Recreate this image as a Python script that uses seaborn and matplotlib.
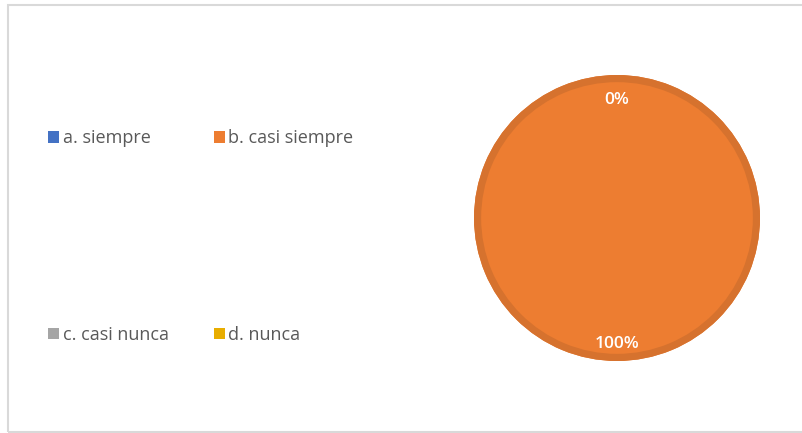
import matplotlib
matplotlib.use("Agg")
import matplotlib.pyplot as plt
import matplotlib.transforms as mtransforms
import seaborn as sns
from matplotlib.patches import Patch, Rectangle

categorias = ["a. siempre", "b. casi siempre", "c. casi nunca", "d. nunca"]
valores = [0, 100, 0, 0]
colores = ["#4472C4", "#ED7D31", "#A5A5A5", "#E8AD00"]
bordes = ["#3A62A8", "#D6722E", "#8E8E8E", "#C99600"]

sns.set_theme(style="white")
plt.rcParams["font.family"] = ["Open Sans", "DejaVu Sans"]

fig = plt.figure(figsize=(8.03, 4.33), dpi=100)
fig.patch.set_facecolor("white")

# marco gris del grafico
fig.patches.append(Rectangle((8 / 803, 1 / 433), 800 / 803, 427 / 433,
                             transform=fig.transFigure, fill=False,
                             edgecolor="#D9D9D9", linewidth=1.5))

ax = fig.add_axes([474 / 803, 72 / 433, 286 / 803, 286 / 433])
wedges, textos, autotextos = ax.pie(
    valores, colors=colores, startangle=90, counterclock=False,
    autopct="%1.0f%%", pctdistance=0.85, radius=1,
    wedgeprops=dict(linewidth=0),
    textprops=dict(color="white", fontsize=12.5, fontweight="semibold"))
# las etiquetas de 0% caen en el mismo sitio, se deja solo una
vistos = set()
for t in autotextos:
    pos = tuple(round(p, 3) for p in t.get_position())
    if pos in vistos:
        t.set_visible(False)
    vistos.add(pos)
    t.set_transform(mtransforms.offset_copy(t.get_transform(), fig=fig,
                                            y=-4, units="dots"))
# anillo exterior mas oscuro
ax.pie(valores, colors=bordes, startangle=90, counterclock=False, radius=1,
       wedgeprops=dict(width=0.05, linewidth=0))
ax.set_xlim(-1.0, 1.0)
ax.set_ylim(-1.0, 1.0)
ax.set_aspect("equal")
ax.axis("off")

# leyenda en dos columnas (orden a, c, b, d)
orden = [0, 2, 1, 3]
handles = [Patch(facecolor=colores[i], edgecolor="none") for i in orden]
labels = [categorias[i] for i in orden]
fig.legend(handles, labels, ncol=2, loc="upper left",
           bbox_to_anchor=(41 / 803, 1 - 122 / 433),
           frameon=False, fontsize=13, labelcolor="#595959",
           handlelength=0.6, handleheight=0.6, handletextpad=0.2,
           labelspacing=9.9, columnspacing=2.5, borderaxespad=0)

fig.savefig("out.png", dpi=100)
